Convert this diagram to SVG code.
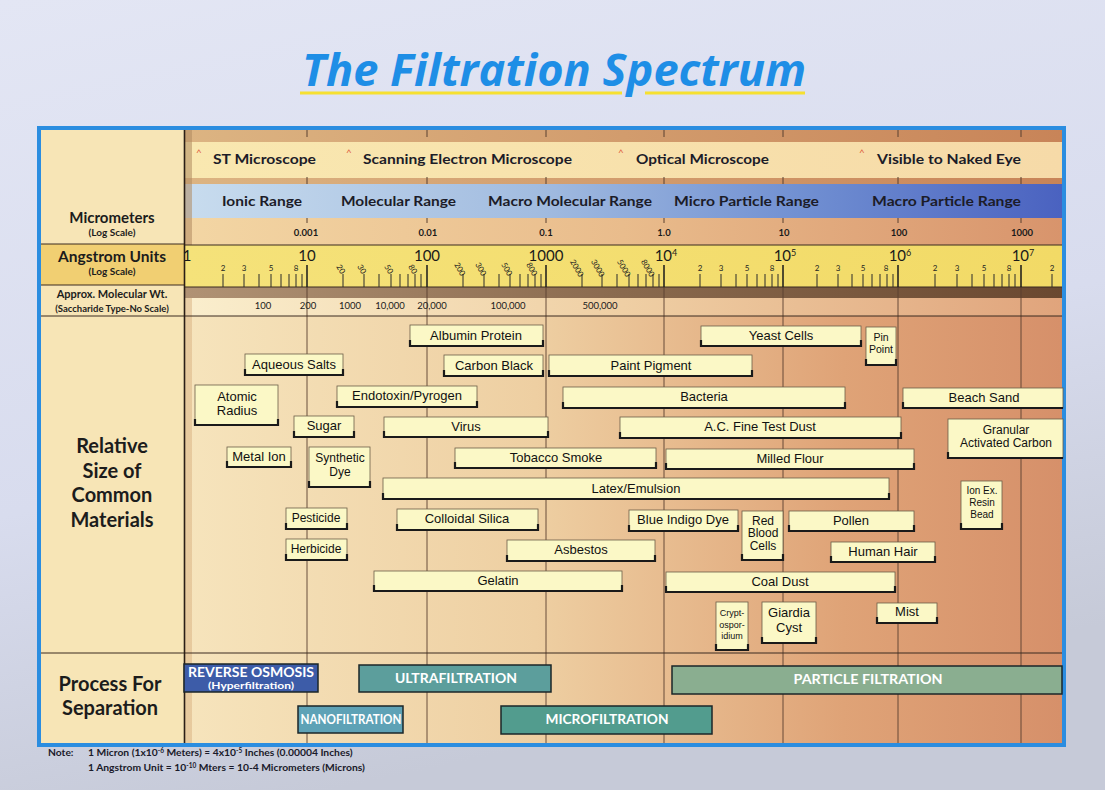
<svg xmlns="http://www.w3.org/2000/svg" width="1105" height="790" viewBox="0 0 1105 790">
<defs>
<linearGradient id="pageBg" x1="0" y1="0" x2="0.3" y2="1">
<stop offset="0" stop-color="#e3e6f4"/><stop offset="0.6" stop-color="#d8dcee"/><stop offset="1" stop-color="#c6cad8"/>
</linearGradient>
<linearGradient id="bgGrad" x1="0" y1="0" x2="1" y2="0">
<stop offset="0" stop-color="#f6e4bc"/><stop offset="0.4" stop-color="#eecfa2"/><stop offset="0.75" stop-color="#dfa377"/><stop offset="1" stop-color="#d6906a"/>
</linearGradient>
<linearGradient id="stripGrad" x1="0" y1="0" x2="1" y2="0">
<stop offset="0" stop-color="#dcb482"/><stop offset="1" stop-color="#c88458"/>
</linearGradient>
<linearGradient id="microGrad" x1="0" y1="0" x2="1" y2="0">
<stop offset="0" stop-color="#f9e8b0"/><stop offset="1" stop-color="#f6daa8"/>
</linearGradient>
<linearGradient id="blueGrad" x1="0" y1="0" x2="1" y2="0">
<stop offset="0" stop-color="#c8dcee"/><stop offset="0.4" stop-color="#a2bce0"/><stop offset="0.7" stop-color="#7190d2"/><stop offset="1" stop-color="#4a62c0"/>
</linearGradient>
<linearGradient id="valGrad" x1="0" y1="0" x2="1" y2="0">
<stop offset="0" stop-color="#f3d6a4"/><stop offset="0.5" stop-color="#e9bc8c"/><stop offset="1" stop-color="#d8946c"/>
</linearGradient>
<linearGradient id="angGrad" x1="0" y1="0" x2="1" y2="0">
<stop offset="0" stop-color="#f5e27a"/><stop offset="1" stop-color="#f2da66"/>
</linearGradient>
<linearGradient id="darkGrad" x1="0" y1="0" x2="1" y2="0">
<stop offset="0" stop-color="#b09274"/><stop offset="0.5" stop-color="#8a6a4e"/><stop offset="1" stop-color="#6a4830"/>
</linearGradient>
<linearGradient id="molGrad" x1="0" y1="0" x2="1" y2="0">
<stop offset="0" stop-color="#faeecd"/><stop offset="0.5" stop-color="#efcfa4"/><stop offset="1" stop-color="#e0a47c"/>
</linearGradient>
<style>
.hdr{font-family:Lato,"Open Sans",sans-serif;font-weight:700;fill:#1c1c28}
.lbl{font-family:"Liberation Sans",Arial,sans-serif;font-size:13px;fill:#111;text-anchor:middle}
.box{fill:#fbf8c6;stroke:#6b5d48;stroke-width:0.8}
.sh{fill:none;stroke:#1a1a1a;stroke-width:2.2}
.grid{stroke:#5a4030;stroke-width:0.9;fill:none}
.maj{stroke:#1a1a1a;stroke-width:1.5}
.min{stroke:#2a2a2a;stroke-width:1}
.tk{stroke:#5a4030;stroke-width:1}
.sm{font-family:Lato,"Open Sans",sans-serif;font-size:8px;fill:#222;text-anchor:middle}
.big{font-family:Lato,"Open Sans",sans-serif;font-size:15px;fill:#1a1a1a;text-anchor:middle}
.val{font-family:Lato,"Open Sans",sans-serif;font-size:9.5px;font-weight:700;fill:#1a1a1a;text-anchor:middle}
.mw{font-family:Lato,"Open Sans",sans-serif;font-size:9.5px;fill:#1a1a1a;text-anchor:middle}
.proc{font-family:Lato,"Open Sans",sans-serif;font-weight:700;fill:#fff;text-anchor:middle;font-size:13px}
.bar{stroke:#1b2628;stroke-width:1.5}
.caret{font-family:Lato,sans-serif;font-size:10px;fill:#e0603c}
.side{font-family:Lato,"Open Sans",sans-serif;font-weight:700;fill:#1c1c1c;text-anchor:middle}
</style>
</defs>

<rect x="0" y="0" width="1105" height="790" fill="url(#pageBg)"/>

<g id="title">
<path d="M300 93 H622 M645 93 H805" stroke="#f6e030" stroke-width="3" fill="none"/>
<text x="302" y="86" font-family="'Open Sans',Lato,sans-serif" font-weight="700" font-style="italic" font-size="44" fill="#1e8ee6" textLength="504" lengthAdjust="spacingAndGlyphs">The Filtration Spectrum</text>
</g>

<g id="chart-background">
<rect x="185" y="130" width="877" height="613" fill="url(#bgGrad)"/>
<rect x="185" y="130" width="877" height="12" fill="url(#stripGrad)"/>
<rect x="185" y="142" width="877" height="36" fill="url(#microGrad)"/>
<rect x="185" y="178" width="877" height="6" fill="url(#stripGrad)"/>
<rect x="185" y="184" width="877" height="34" fill="url(#blueGrad)"/>
<rect x="185" y="218" width="877" height="27" fill="url(#valGrad)"/>
<rect x="185" y="245" width="877" height="42" fill="url(#angGrad)"/>
<rect x="185" y="287" width="877" height="11" fill="url(#darkGrad)"/>
<rect x="185" y="298" width="877" height="18" fill="url(#molGrad)"/>
<rect x="185" y="130" width="7" height="115" fill="#b08a60" opacity="0.55"/>
<rect x="185" y="298" width="7" height="445" fill="#d8b080" opacity="0.5"/>
<rect x="41" y="130" width="144" height="613" fill="#f7e5b6"/>
<rect x="41" y="244" width="144" height="41" fill="#f1cf72"/>
</g>

<g id="grid-lines">
<path class="grid" d="M307 287V743M427 287V743M546 287V743M664 287V743M783 287V743M898 287V743M1021 287V743"/>
<path class="tk" d="M307 130V137M427 130V137M546 130V137M664 130V137M783 130V137M898 130V137M1021 130V137"/>
<path class="tk" d="M307 177V184M427 177V184M546 177V184M664 177V184M783 177V184M898 177V184M1021 177V184"/>
<path class="tk" d="M307 218V223M427 218V223M546 218V223M664 218V223M783 218V223M898 218V223M1021 218V223"/>
<path stroke="#3a2a20" stroke-width="1" fill="none" d="M185 245H1062M185 287H1062M41 316H1062M41 653H1062M41 244H185M41 285H185"/>
<path stroke="#2a1e16" stroke-width="1.6" d="M184.5 130V743"/>
</g>

<g id="frame">
<rect x="39" y="128" width="1025" height="617" fill="none" stroke="#2b8de0" stroke-width="4"/>
</g>

<g id="row-headers">
<text class="side" x="112" y="223" font-size="15">Micrometers</text>
<text class="side" x="112" y="236" font-size="10">(Log Scale)</text>
<text class="side" x="112" y="262" font-size="15.5">Angstrom Units</text>
<text class="side" x="112" y="275" font-size="10">(Log Scale)</text>
<text class="side" x="112" y="298" font-size="11">Approx. Molecular Wt.</text>
<text class="side" x="112" y="312" font-size="9.5">(Saccharide Type-No Scale)</text>
<text class="side" x="112" y="453" font-size="20">Relative</text>
<text class="side" x="112" y="478" font-size="20">Size of</text>
<text class="side" x="112" y="502" font-size="20">Common</text>
<text class="side" x="112" y="527" font-size="20">Materials</text>
<text class="side" x="110" y="691" font-size="20">Process For</text>
<text class="side" x="110" y="715" font-size="20">Separation</text>
</g>

<g id="microscope-row">
<text class="caret" x="196" y="156">^</text>
<text class="hdr" x="213" y="164" font-size="13.5" textLength="103" lengthAdjust="spacingAndGlyphs">ST Microscope</text>
<text class="caret" x="346" y="156">^</text>
<text class="hdr" x="363" y="164" font-size="13.5" textLength="209" lengthAdjust="spacingAndGlyphs">Scanning Electron Microscope</text>
<text class="caret" x="618" y="156">^</text>
<text class="hdr" x="636" y="164" font-size="13.5" textLength="133" lengthAdjust="spacingAndGlyphs">Optical Microscope</text>
<text class="caret" x="859" y="156">^</text>
<text class="hdr" x="877" y="164" font-size="13.5" textLength="144" lengthAdjust="spacingAndGlyphs">Visible to Naked Eye</text>
</g>

<g id="range-row">
<text class="hdr" x="222" y="206" font-size="13.5" textLength="80" lengthAdjust="spacingAndGlyphs">Ionic Range</text>
<text class="hdr" x="341" y="206" font-size="13.5" textLength="115" lengthAdjust="spacingAndGlyphs">Molecular Range</text>
<text class="hdr" x="488" y="206" font-size="13.5" textLength="164" lengthAdjust="spacingAndGlyphs">Macro Molecular Range</text>
<text class="hdr" x="674" y="206" font-size="13.5" textLength="145" lengthAdjust="spacingAndGlyphs">Micro Particle Range</text>
<text class="hdr" x="872" y="206" font-size="13.5" textLength="149" lengthAdjust="spacingAndGlyphs">Macro Particle Range</text>
</g>

<g id="micrometer-scale">
<text class="val" x="306" y="236">0.001</text>
<text class="val" x="428" y="236">0.01</text>
<text class="val" x="546" y="236">0.1</text>
<text class="val" x="664" y="236">1.0</text>
<text class="val" x="784" y="236">10</text>
<text class="val" x="899" y="236">100</text>
<text class="val" x="1022" y="236">1000</text>
</g>

<g id="angstrom-scale">
<path class="maj" d="M307 265V287M427 265V287M546 265V287M664 265V287M783 265V287M898 265V287M1021 265V287"/>
<path class="min" d="M223 274V287M244 274V287M259 274V287M271 274V287M281 274V287M289 274V287M296 274V287M302 274V287
M343 274V287M364 274V287M379 274V287M391 274V287M400 274V287M408 274V287M415 274V287M421 274V287
M463 274V287M484 274V287M499 274V287M510 274V287M520 274V287M528 274V287M535 274V287M541 274V287
M582 274V287M602 274V287M617 274V287M629 274V287M638 274V287M646 274V287M653 274V287M659 274V287
M700 274V287M721 274V287M736 274V287M747 274V287M757 274V287M765 274V287M772 274V287M778 274V287
M817 274V287M838 274V287M852 274V287M863 274V287M872 274V287M880 274V287M887 274V287M893 274V287
M935 274V287M957 274V287M972 274V287M984 274V287M994 274V287M1002 274V287M1009 274V287M1015 274V287
M1052 274V287"/>
<text class="big" x="187" y="261">1</text>
<text class="big" x="307" y="261">10</text>
<text class="big" x="427" y="261">100</text>
<text class="big" x="546" y="261">1000</text>
<text class="big" x="666" y="261">10<tspan font-size="9" dy="-5">4</tspan></text>
<text class="big" x="785" y="261">10<tspan font-size="9" dy="-5">5</tspan></text>
<text class="big" x="900" y="261">10<tspan font-size="9" dy="-5">6</tspan></text>
<text class="big" x="1023" y="261">10<tspan font-size="9" dy="-5">7</tspan></text>
<text class="sm" x="223" y="271">2</text><text class="sm" x="244" y="271">3</text><text class="sm" x="271" y="271">5</text><text class="sm" x="296" y="271">8</text>
<text class="sm" transform="translate(341,269) rotate(60)" y="3">20</text>
<text class="sm" transform="translate(362,269) rotate(60)" y="3">30</text>
<text class="sm" transform="translate(389,269) rotate(60)" y="3">50</text>
<text class="sm" transform="translate(413,269) rotate(60)" y="3">80</text>
<text class="sm" transform="translate(460,269) rotate(60)" y="3">200</text>
<text class="sm" transform="translate(481,269) rotate(60)" y="3">300</text>
<text class="sm" transform="translate(507,269) rotate(60)" y="3">500</text>
<text class="sm" transform="translate(532,269) rotate(60)" y="3">800</text>
<text class="sm" transform="translate(577,268) rotate(60)" y="3">2000</text>
<text class="sm" transform="translate(598,268) rotate(60)" y="3">3000</text>
<text class="sm" transform="translate(624,268) rotate(60)" y="3">5000</text>
<text class="sm" transform="translate(648,268) rotate(60)" y="3">8000</text>
<text class="sm" x="700" y="271">2</text><text class="sm" x="721" y="271">3</text><text class="sm" x="747" y="271">5</text><text class="sm" x="772" y="271">8</text>
<text class="sm" x="817" y="271">2</text><text class="sm" x="838" y="271">3</text><text class="sm" x="863" y="271">5</text><text class="sm" x="886" y="271">8</text>
<text class="sm" x="935" y="271">2</text><text class="sm" x="957" y="271">3</text><text class="sm" x="984" y="271">5</text><text class="sm" x="1009" y="271">8</text>
<text class="sm" x="1052" y="271">2</text>
</g>

<g id="molecular-weight-scale">
<text class="mw" x="263" y="309">100</text>
<text class="mw" x="308" y="309">200</text>
<text class="mw" x="350" y="309">1000</text>
<text class="mw" x="390" y="309">10,000</text>
<text class="mw" x="432" y="309">20,000</text>
<text class="mw" x="508" y="309">100,000</text>
<text class="mw" x="600" y="309">500,000</text>
</g>

<g id="albumin-protein"><rect class="box" x="410" y="325" width="133" height="21"/><path class="sh" d="M410 340V346H543V340"/><text class="lbl" x="476" y="340">Albumin Protein</text></g>
<g id="aqueous-salts"><rect class="box" x="245" y="354" width="98" height="21"/><path class="sh" d="M245 369V375H343V369"/><text class="lbl" x="294" y="369">Aqueous Salts</text></g>
<g id="carbon-black"><rect class="box" x="444" y="355" width="99" height="21"/><path class="sh" d="M444 370V376H543V370"/><text class="lbl" x="494" y="370">Carbon Black</text></g>
<g id="paint-pigment"><rect class="box" x="549" y="355" width="203" height="21"/><path class="sh" d="M549 370V376H752V370"/><text class="lbl" x="651" y="370">Paint Pigment</text></g>
<g id="yeast-cells"><rect class="box" x="701" y="326" width="160" height="20"/><path class="sh" d="M701 340V346H861V340"/><text class="lbl" x="781" y="340">Yeast Cells</text></g>
<g id="pin-point"><rect class="box" x="866" y="327" width="30" height="38"/><path class="sh" d="M866 359V365H896V359"/><text class="lbl" x="881" y="341" style="font-size:10.5px">Pin</text><text class="lbl" x="881" y="353" style="font-size:10.5px">Point</text></g>
<g id="atomic-radius"><rect class="box" x="195" y="385" width="83" height="40"/><path class="sh" d="M195 419V425H278V419"/><text class="lbl" x="237" y="401">Atomic</text><text class="lbl" x="237" y="415">Radius</text></g>
<g id="endotoxin-pyrogen"><rect class="box" x="337" y="386" width="140" height="21"/><path class="sh" d="M337 401V407H477V401"/><text class="lbl" x="407" y="400">Endotoxin/Pyrogen</text></g>
<g id="bacteria"><rect class="box" x="563" y="387" width="282" height="21"/><path class="sh" d="M563 402V408H845V402"/><text class="lbl" x="704" y="401">Bacteria</text></g>
<g id="beach-sand"><rect class="box" x="903" y="388" width="160" height="20"/><path class="sh" d="M903 402V408H1063"/><text class="lbl" x="984" y="402">Beach Sand</text></g>
<g id="sugar"><rect class="box" x="294" y="416" width="60" height="21"/><path class="sh" d="M294 431V437H354V431"/><text class="lbl" x="324" y="430">Sugar</text></g>
<g id="virus"><rect class="box" x="384" y="417" width="164" height="20"/><path class="sh" d="M384 431V437H548V431"/><text class="lbl" x="466" y="431">Virus</text></g>
<g id="ac-fine-test-dust"><rect class="box" x="620" y="417" width="281" height="21"/><path class="sh" d="M620 432V438H901V432"/><text class="lbl" x="760" y="431">A.C. Fine Test Dust</text></g>
<g id="granular-activated-carbon"><rect class="box" x="948" y="419" width="115" height="39"/><path class="sh" d="M948 452V458H1063"/><text class="lbl" x="1006" y="434" style="font-size:12px">Granular</text><text class="lbl" x="1006" y="447" style="font-size:12px">Activated Carbon</text></g>
<g id="metal-ion"><rect class="box" x="227" y="447" width="64" height="20"/><path class="sh" d="M227 461V467H291V461"/><text class="lbl" x="259" y="461">Metal Ion</text></g>
<g id="synthetic-dye"><rect class="box" x="309" y="447" width="61" height="40"/><path class="sh" d="M309 481V487H370V481"/><text class="lbl" x="340" y="462" style="font-size:12px">Synthetic</text><text class="lbl" x="340" y="476" style="font-size:12px">Dye</text></g>
<g id="tobacco-smoke"><rect class="box" x="455" y="448" width="201" height="20"/><path class="sh" d="M455 462V468H656V462"/><text class="lbl" x="556" y="462">Tobacco Smoke</text></g>
<g id="milled-flour"><rect class="box" x="666" y="449" width="248" height="20"/><path class="sh" d="M666 463V469H914V463"/><text class="lbl" x="790" y="463">Milled Flour</text></g>
<g id="latex-emulsion"><rect class="box" x="383" y="478" width="506" height="21"/><path class="sh" d="M383 493V499H889V493"/><text class="lbl" x="636" y="493">Latex/Emulsion</text></g>
<g id="ion-ex-resin-bead"><rect class="box" x="961" y="481" width="41" height="48"/><path class="sh" d="M961 523V529H1002V523"/><text class="lbl" x="982" y="494" style="font-size:10px">Ion Ex.</text><text class="lbl" x="982" y="506" style="font-size:10px">Resin</text><text class="lbl" x="982" y="518" style="font-size:10px">Bead</text></g>
<g id="pesticide"><rect class="box" x="286" y="508" width="61" height="21"/><path class="sh" d="M286 523V529H347V523"/><text class="lbl" x="316" y="522" style="font-size:12px">Pesticide</text></g>
<g id="colloidal-silica"><rect class="box" x="397" y="509" width="141" height="21"/><path class="sh" d="M397 524V530H538V524"/><text class="lbl" x="467" y="523">Colloidal Silica</text></g>
<g id="blue-indigo-dye"><rect class="box" x="629" y="510" width="109" height="21"/><path class="sh" d="M629 525V531H738V525"/><text class="lbl" x="683" y="524">Blue Indigo Dye</text></g>
<g id="red-blood-cells"><rect class="box" x="742" y="511" width="41" height="49"/><path class="sh" d="M742 554V560H783V554"/><text class="lbl" x="763" y="524.5" style="font-size:12px">Red</text><text class="lbl" x="763" y="537" style="font-size:12px">Blood</text><text class="lbl" x="763" y="549.5" style="font-size:12px">Cells</text></g>
<g id="pollen"><rect class="box" x="789" y="511" width="125" height="20"/><path class="sh" d="M789 525V531H914V525"/><text class="lbl" x="851" y="525">Pollen</text></g>
<g id="herbicide"><rect class="box" x="286" y="539" width="61" height="21"/><path class="sh" d="M286 554V560H347V554"/><text class="lbl" x="316" y="553" style="font-size:12px">Herbicide</text></g>
<g id="asbestos"><rect class="box" x="507" y="540" width="148" height="21"/><path class="sh" d="M507 555V561H655V555"/><text class="lbl" x="581" y="554">Asbestos</text></g>
<g id="human-hair"><rect class="box" x="831" y="542" width="104" height="20"/><path class="sh" d="M831 556V562H935V556"/><text class="lbl" x="883" y="556">Human Hair</text></g>
<g id="gelatin"><rect class="box" x="374" y="571" width="248" height="20"/><path class="sh" d="M374 585V591H622V585"/><text class="lbl" x="498" y="585">Gelatin</text></g>
<g id="coal-dust"><rect class="box" x="666" y="572" width="229" height="20"/><path class="sh" d="M666 586V592H895V586"/><text class="lbl" x="780" y="586">Coal Dust</text></g>
<g id="cryptosporidium"><rect class="box" x="716" y="602" width="32" height="48"/><path class="sh" d="M716 644V650H748V644"/><text class="lbl" x="732" y="616" style="font-size:9px">Crypt-</text><text class="lbl" x="732" y="627.5" style="font-size:9px">ospor-</text><text class="lbl" x="732" y="639" style="font-size:9px">idium</text></g>
<g id="giardia-cyst"><rect class="box" x="762" y="602" width="54" height="41"/><path class="sh" d="M762 637V643H816V637"/><text class="lbl" x="789" y="617">Giardia</text><text class="lbl" x="789" y="632">Cyst</text></g>
<g id="mist"><rect class="box" x="877" y="603" width="60" height="20"/><path class="sh" d="M877 617V623H937V617"/><text class="lbl" x="907" y="616">Mist</text></g>

<g id="reverse-osmosis"><rect class="bar" x="184" y="664" width="134" height="28" fill="#3d5ca8"/><text class="proc" x="251" y="676.5" style="font-size:12.5px" textLength="126" lengthAdjust="spacingAndGlyphs">REVERSE OSMOSIS</text><text class="proc" x="251" y="689" style="font-size:9px" textLength="86" lengthAdjust="spacingAndGlyphs">(Hyperfiltration)</text></g>
<g id="ultrafiltration"><rect class="bar" x="359" y="665" width="192" height="27" fill="#5c9e9c"/><text class="proc" x="456" y="683" textLength="122" lengthAdjust="spacingAndGlyphs">ULTRAFILTRATION</text></g>
<g id="particle-filtration"><rect class="bar" x="672" y="666" width="390" height="28" fill="#8aae90"/><text class="proc" x="868" y="684" textLength="149" lengthAdjust="spacingAndGlyphs">PARTICLE FILTRATION</text></g>
<g id="nanofiltration"><rect class="bar" x="298" y="706" width="105" height="27" fill="#5ea2b6"/><text class="proc" x="351" y="724" textLength="101" lengthAdjust="spacingAndGlyphs">NANOFILTRATION</text></g>
<g id="microfiltration"><rect class="bar" x="501" y="706" width="211" height="28" fill="#529c8e"/><text class="proc" x="607" y="724" textLength="123" lengthAdjust="spacingAndGlyphs">MICROFILTRATION</text></g>

<g id="note" font-family="Lato,'Open Sans',sans-serif" font-weight="700" font-size="10.3" fill="#1a1a2a">
<text x="48" y="756">Note:</text>
<text x="88" y="756">1 Micron (1x10<tspan font-size="6.5" dy="-3">-6</tspan><tspan dy="3"> Meters) ≈ 4x10</tspan><tspan font-size="6.5" dy="-3">-5</tspan><tspan dy="3"> Inches (0.00004 Inches)</tspan></text>
<text x="88" y="771">1 Angstrom Unit = 10<tspan font-size="6.5" dy="-3">-10</tspan><tspan dy="3"> Mters = 10-4 Micrometers (Microns)</tspan></text>
</g>
</svg>
